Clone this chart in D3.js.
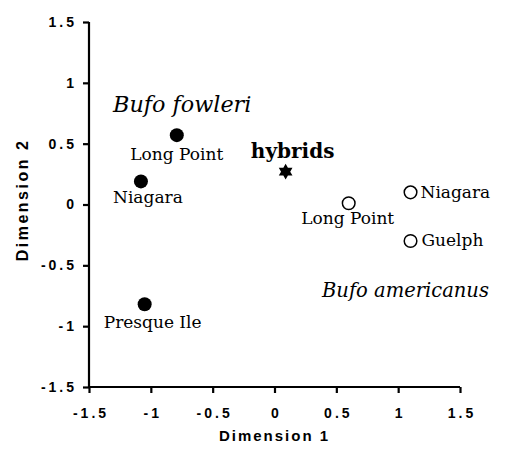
<!DOCTYPE html>
<html>
<head>
<meta charset="utf-8">
<script src="https://cdn.jsdelivr.net/npm/d3@7"></script>
<style>
  body { margin: 0; background: #fff; }
  .tick text { font-family: "Liberation Sans", Arial, sans-serif; font-weight: bold; font-size: 14px; letter-spacing: 3px; }
  .lbl { font-family: "DejaVu Serif", serif; }
</style>
</head>
<body>
<svg id="chart" width="517" height="456"></svg>
<script>
const ticks = [-1.5, -1, -0.5, 0, 0.5, 1, 1.5];

// Bufo fowleri populations (filled)
const fowleriNames = ['Long Point', 'Niagara', 'Presque Ile'];
const fowleriX = [-0.79, -1.08, -1.05];
const fowleriY = [0.57, 0.19, -0.82];

// Bufo americanus populations (open)
const americanusNames = ['Long Point', 'Niagara', 'Guelph'];
const americanusX = [0.60, 1.10, 1.10];
const americanusY = [0.01, 0.10, -0.30];

// hybrids (star)
const hybridX = [0.09];
const hybridY = [0.27];

const svg = d3.select('#chart');
const m = { left: 89, right: 460, top: 22, bottom: 387 };

const x = d3.scaleLinear().domain([-1.5, 1.5]).range([m.left, m.right]);
const y = d3.scaleLinear().domain([-1.5, 1.5]).range([m.bottom, m.top]);

const fmt = (d) => String(d);

const xAxis = svg.append('g')
  .attr('transform', `translate(0,${m.bottom})`)
  .call(d3.axisBottom(x).tickValues(ticks).tickSize(6).tickPadding(15).tickFormat(fmt));
const yAxis = svg.append('g')
  .attr('transform', `translate(${m.left},0)`)
  .call(d3.axisLeft(y).tickValues(ticks).tickSize(6).tickPadding(9).tickFormat(fmt));

[xAxis, yAxis].forEach((g) => {
  g.select('.domain').attr('stroke', '#000').attr('stroke-width', 2.2);
  g.selectAll('.tick line').attr('stroke', '#000').attr('stroke-width', 2.2);
  g.selectAll('.tick text').attr('fill', '#000');
});
xAxis.selectAll('.tick text').attr('dx', 1.5);
yAxis.selectAll('.tick text').attr('dx', 3);
// no outer tick overshoot
xAxis.select('.domain').attr('d', `M${m.left},0H${m.right}`);
yAxis.select('.domain').attr('d', `M0,${m.top}V${m.bottom}`);

svg.append('text')
  .attr('x', x(0)).attr('y', 441)
  .attr('text-anchor', 'middle')
  .style('font-family', '"Liberation Sans", Arial, sans-serif')
  .style('font-weight', 'bold').style('font-size', '15px').style('letter-spacing', '2px')
  .text('Dimension 1');

svg.append('text')
  .attr('transform', `translate(28,200) rotate(-90)`)
  .attr('text-anchor', 'middle')
  .style('font-family', '"Liberation Sans", Arial, sans-serif')
  .style('font-weight', 'bold').style('font-size', '16px').style('letter-spacing', '2.5px')
  .text('Dimension 2');

// points
svg.selectAll('circle.fow')
  .data(fowleriX)
  .enter()
  .append('circle')
  .attr('cx', (d) => x(d))
  .attr('cy', (d, i) => y(fowleriY[i]))
  .attr('r', 7)
  .attr('fill', '#000');

svg.selectAll('circle.am')
  .data(americanusX)
  .enter()
  .append('circle')
  .attr('cx', (d) => x(d))
  .attr('cy', (d, i) => y(americanusY[i]))
  .attr('r', 6.3)
  .attr('fill', '#fff')
  .attr('stroke', '#000')
  .attr('stroke-width', 1.5);

const star = d3.symbol().type({
  draw(ctx, size) {
    const r = Math.sqrt(size) / 2;
    const ri = r * 0.58;
    for (let k = 0; k < 12; k++) {
      const a = (k * Math.PI) / 6;
      const rr = k % 2 === 0 ? r : ri;
      const px = rr * Math.sin(a);
      const py = -rr * Math.cos(a);
      if (k === 0) ctx.moveTo(px, py); else ctx.lineTo(px, py);
    }
    ctx.closePath();
  },
}).size(250);

svg.selectAll('path.hyb')
  .data(hybridX)
  .enter()
  .append('path')
  .attr('d', star)
  .attr('transform', (d, i) => `translate(${x(d)},${y(hybridY[i])})`)
  .attr('fill', '#000');

// labels
function label(txt, px, py, size, opts = {}) {
  svg.append('text')
    .attr('class', 'lbl')
    .attr('x', px).attr('y', py)
    .attr('text-anchor', opts.anchor || 'middle')
    .style('font-size', `${size}px`)
    .style('font-style', opts.italic ? 'italic' : 'normal')
    .style('font-weight', opts.bold ? 'bold' : 'normal')
    .text(txt);
}

label(fowleriNames[0], x(fowleriX[0]), y(fowleriY[0]) + 25, 17);
label(fowleriNames[1], x(fowleriX[1]) + 7, y(fowleriY[1]) + 22, 17);
label(fowleriNames[2], x(fowleriX[2]) + 8, y(fowleriY[2]) + 24, 17);
label(americanusNames[0], x(americanusX[0]) - 1, y(americanusY[0]) + 21, 17);
label(americanusNames[1], x(americanusX[1]) + 10, y(americanusY[1]) + 6, 17, { anchor: 'start' });
label(americanusNames[2], x(americanusX[2]) + 11, y(americanusY[2]) + 5, 17, { anchor: 'start' });
label('hybrids', x(hybridX[0]) + 7, y(hybridY[0]) - 14, 20, { bold: true });
label('Bufo fowleri', 113, 112, 22.3, { anchor: 'start', italic: true });
label('Bufo americanus', 322, 297, 19.5, { anchor: 'start', italic: true });
</script>
</body>
</html>
